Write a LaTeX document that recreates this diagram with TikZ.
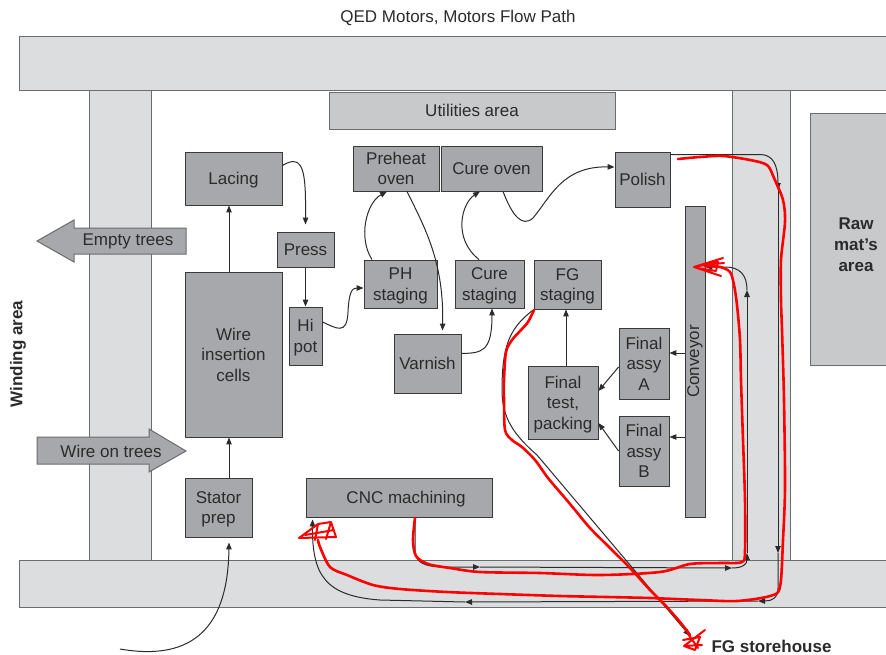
\documentclass[tikz,border=0pt]{standalone}
\usepackage{fontspec}
\setmainfont{Liberation Sans}
\usetikzlibrary{arrows.meta,calc}

\definecolor{aisle}{HTML}{DCDDDF}
\definecolor{aisleline}{HTML}{6B6C6E}
\definecolor{areafill}{HTML}{C8C9CB}
\definecolor{boxfill}{HTML}{A7A8AB}
\definecolor{boxline}{HTML}{3A3A3A}
\definecolor{ink}{HTML}{2B2B2B}
\definecolor{pencil}{HTML}{FF0000}

\tikzset{
  lbl/.style={font=\fontsize{17}{20.5}\selectfont, text=ink, align=center},
  lblb/.style={font=\fontsize{17}{21}\selectfont\bfseries, text=ink, align=center},
  stepbox/.style={lbl, rectangle, fill=boxfill, draw=boxline, line width=0.9pt, inner sep=0pt, text depth=0pt},
  aislebox/.style={fill=aisle, draw=aisleline, line width=1pt},
  areabox/.style={fill=areafill, draw=aisleline, line width=1pt},
  bigarrow/.style={fill=boxfill, draw=aisleline, line width=1pt},
  conn/.style={draw=ink, line width=1pt, -{Triangle[length=7pt,width=5.5pt]}},
  pen/.style={draw=pencil, line width=2.6pt, line cap=round, line join=round},
  scrib/.style={draw=pencil, line width=2pt, line cap=round, line join=round},
}

\begin{document}
\begin{tikzpicture}[x=1pt,y=-1pt]
\useasboundingbox (0,0) rectangle (886,654);
\clip (0,0) rectangle (886,654);

% title
\node[lbl] (title) at (458,18) {QED Motors, Motors Flow Path};

% aisles
\draw[aislebox] (89,90) rectangle (151,560);
\draw[aislebox] (732,90) rectangle (790,560);
\draw[aislebox] (19,36) rectangle (895,90);
\draw[aislebox] (19,560) rectangle (895,607);

% fixed areas
\node[areabox, lbl, minimum width=286pt, minimum height=37pt, inner sep=0pt, text depth=0pt] (util) at (472,110.5) {Utilities area};
\draw[areabox] (810,113) rectangle (895,365);
\node[lblb] (raw) at (856,245) {Raw\\mat’s\\area};

% material in / out of the winding area
\draw[bigarrow] (186,228) -- (74,228) -- (74,220) -- (37,241) -- (74,262) -- (74,254) -- (186,254) -- cycle;
\node[lbl] (empty) at (128,241) {Empty trees};
\draw[bigarrow] (37,437) -- (149,437) -- (149,429) -- (186,451) -- (149,472) -- (149,464) -- (37,464) -- cycle;
\node[lbl] (wireon) at (111,451) {Wire on trees};
\node[lblb, rotate=90] (winding) at (18,354) {Winding area};

% process steps
\node[stepbox, minimum width=97pt, minimum height=53pt] (lacing) at (233.5,178.5) {Lacing};
\node[stepbox, minimum width=57pt, minimum height=35pt] (press) at (305.5,249.5) {Press};
\node[stepbox, minimum width=33pt, minimum height=58pt] (hipot) at (305.5,336) {Hi\\pot};
\node[stepbox, minimum width=97pt, minimum height=165pt] (wire) at (233.5,354.5) {Wire\\insertion\\cells};
\node[stepbox, minimum width=67pt, minimum height=59pt] (stator) at (218.5,507.5) {Stator\\prep};
\node[stepbox, minimum width=86pt, minimum height=45pt] (preheat) at (396,168.5) {Preheat\\oven};
\node[stepbox, minimum width=101pt, minimum height=45pt] (cureoven) at (491.5,168.5) {Cure oven};
\node[stepbox, minimum width=73pt, minimum height=48pt] (phstage) at (400.5,284) {PH\\staging};
\node[stepbox, minimum width=69pt, minimum height=48pt] (curestage) at (489.5,284) {Cure\\staging};
\node[stepbox, minimum width=67pt, minimum height=49pt] (fgstage) at (567.5,284.5) {FG\\staging};
\node[stepbox, minimum width=67pt, minimum height=59pt] (varnish) at (427.5,363.5) {Varnish};
\node[stepbox, minimum width=55pt, minimum height=55pt] (polish) at (642.5,179.5) {Polish};
\node[stepbox, minimum width=20pt, minimum height=311pt] (conveyor) at (695,361.5) {};
\node[lbl, rotate=90] (convlabel) at (695,361.5) {Conveyor};
\node[stepbox, minimum width=70pt, minimum height=73pt] (test) at (563,402.5) {Final\\test,\\packing};
\node[stepbox, minimum width=50pt, minimum height=71pt] (assyA) at (644,363.5) {Final\\assy\\A};
\node[stepbox, minimum width=50pt, minimum height=70pt] (assyB) at (644,451) {Final\\assy\\B};
\node[stepbox, minimum width=186pt, minimum height=39pt] (cnc) at (399,497.5) {\hspace*{14pt}CNC machining};
\node[lblb, anchor=west] (fgstore) at (708,646) {FG storehouse};

% helper points
\coordinate (colA) at (229,0);
\coordinate (feed) at (120,649);
\coordinate (p1) at (778,190);
\coordinate (p2) at (778,553);
\coordinate (p3) at (758,601);
\coordinate (p4) at (465,602);
\coordinate (q1) at (480,567);
\coordinate (q2) at (732,568);
\coordinate (q3) at (747,553);
\coordinate (q4) at (747,290);
\coordinate (fgend) at (690,636);

% flow connectors
\draw[conn] (feed) .. controls (195,662) and (228,625) .. ($(colA |- stator.south)+(0,5)$);
\draw[conn] (colA |- stator.north) -- (colA |- wire.south);
\draw[conn] (colA |- wire.north) -- (colA |- lacing.south);
\draw[conn] ($(lacing.east)+(0,-13)$) .. controls (300,155) and (305,165) .. (305.5,200) -- ($(press.north)+(0,-7)$);
\draw[conn] (press.south) -- (hipot.north);
\draw[conn] ($(hipot.east)+(0,-14)$) .. controls (336,328) and (347,336) .. (348,312) .. controls (349,292) and (352,288) .. ($(phstage.west)+(0,4)$);
\draw[conn] ($(phstage.north)+(-28.5,0)$) .. controls (358,238) and (366,203) .. ($(preheat.south)+(-9,0)$);
\draw[conn] ($(preheat.south)+(11,0)$) .. controls (425,228) and (444,262) .. ($(varnish.north)+(15,-3)$);
\draw[conn] ($(varnish.east)+(0,-10)$) .. controls (482,353) and (492,352) .. ($(curestage.south)+(2.5,0)$);
\draw[conn] ($(curestage.north)+(-10.5,0)$) .. controls (452,238) and (462,203) .. ($(cureoven.south)+(-11.5,0)$);
\draw[conn] ($(cureoven.south)+(11.5,0)$) .. controls (512,215) and (522,228) .. (533,218) .. controls (550,198) and (562,166) .. ($(polish.west)+(0,-12.5)$);

% polish -> aisles -> CNC machining
\draw[conn] ($(polish.east)+(0,-25)$) -- (760,154.5) .. controls (773,154.5) and (778,165) .. (p1);
\draw[conn] (p1) -- (p2);
\draw[conn] (p2) -- (778,588) .. controls (778,598) and (772,601) .. (p3);
\draw[conn] (p3) -- (p4);
\draw[conn] (p4) -- (380,600) .. controls (325,596) and (312,575) .. ($(cnc.south west)+(7,2)$);

% CNC machining -> aisles -> conveyor
\draw[conn] ($(cnc.south)+(16,0)$) -- (415,550) .. controls (415,563) and (425,567) .. (445,567) -- (q1);
\draw[conn] (q1) -- (q2);
\draw[conn] (q2) .. controls (743,568) and (747,564) .. (q3);
\draw[conn] (q3) -- (q4);
\draw[conn] (q4) .. controls (747,275) and (740,267) .. (725,267) -- ($(conveyor.east)+(0,-94.5)$);

% conveyor -> final assembly -> test -> FG staging
\draw[conn] ($(conveyor.west)+(0,-8.5)$) -- ($(assyA.east)+(0,-10.5)$);
\draw[conn] ($(conveyor.west)+(0,75.5)$) -- ($(assyB.east)+(0,-14)$);
\draw[conn] ($(assyA.west)+(0,3.5)$) -- ($(test.east)+(0,-11.5)$);
\draw[conn] (assyB.west) -- ($(test.east)+(0,20.5)$);
\draw[conn] ($(test.north)+(3,0)$) -- ($(fgstage.south)+(-1.5,0)$);
\draw[conn] ($(fgstage.south west)+(-1,1)$) .. controls (510,328) and (502,345) .. (502,390) .. controls (502,418) and (514,435) .. (537,455) -- (fgend);

% red pen mark-up
\draw[pen] plot[smooth, tension=0.5] coordinates {(678,159) (700,157) (723,156) (750,160) (767,165) (774,178) (783,200) (785,222) (781,260) (781,300) (782,330) (784,400) (785,487) (783,540) (780,587) (770,596) (737,601) (700,600) (650,598) (607,597) (560,596) (500,594) (447,592) (400,589) (373,585) (347,575) (330,567) (320,547) (318,540)};
\draw[pen] plot[smooth, tension=0.5] coordinates {(415,518) (413,540) (416,556) (428,564) (450,568) (480,572) (540,573) (600,575) (660,572) (690,564) (720,563) (742,562) (745,550) (745,500) (743,440) (741,380) (740,340) (737,305) (734,285) (730,272) (720,267) (705,266)};
\draw[pen] plot[smooth, tension=0.5] coordinates {(534,310) (528,322) (521,330) (512,340) (506,352) (504,380) (504,400) (505,430) (512,440) (522,447) (535,460) (548,478) (565,498) (575,510) (590,528) (610,548) (630,568) (650,590) (665,605) (680,622) (690,635)};

% scribbled arrow heads
\draw[scrib] (723,258) -- (694,267) -- (721,276) (694,267) -- (718,262) -- (716,271) -- (697,268) (700,265) -- (724,263);
\draw[scrib] (299,538) -- (318,524) -- (331,522) -- (336,537) -- cycle (318,524) -- (315,540) (331,522) -- (326,539) (305,535) -- (334,530);
\draw[scrib] (684,646) -- (705,630) (683,640) -- (700,637) -- (695,650) -- (684,646) -- (702,645) (688,634) -- (698,648);
\end{tikzpicture}
\end{document}
